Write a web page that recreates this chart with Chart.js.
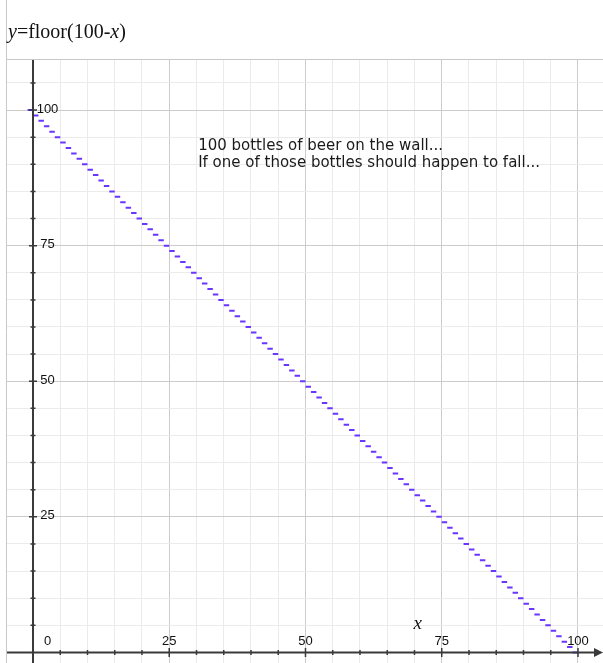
<!DOCTYPE html>
<html>
<head>
<meta charset="utf-8">
<script src="https://cdn.jsdelivr.net/npm/chart.js@4.4.0/dist/chart.umd.min.js"></script>
<style>
  html, body { margin: 0; padding: 0; background: #fff; }
  #wrap { width: 603px; height: 663px; position: relative; }
</style>
</head>
<body>
<div id="wrap"><canvas id="chart" width="603" height="663"></canvas></div>
<script>
// step edges on x: dash i runs from stepEdges[i] to stepEdges[i+1]
var stepEdges = [
  -1, 0, 1, 2, 3, 4, 5, 6, 7, 8, 9, 10, 11, 12, 13, 14, 15, 16, 17, 18, 19,
  20, 21, 22, 23, 24, 25, 26, 27, 28, 29, 30, 31, 32, 33, 34, 35, 36, 37, 38, 39,
  40, 41, 42, 43, 44, 45, 46, 47, 48, 49, 50, 51, 52, 53, 54, 55, 56, 57, 58, 59,
  60, 61, 62, 63, 64, 65, 66, 67, 68, 69, 70, 71, 72, 73, 74, 75, 76, 77, 78, 79,
  80, 81, 82, 83, 84, 85, 86, 87, 88, 89, 90, 91, 92, 93, 94, 95, 96, 97, 98, 99, 100
];
// floor(100-x) on each step
var stepValues = [
  100, 99, 98, 97, 96, 95, 94, 93, 92, 91, 90, 89, 88, 87, 86, 85, 84, 83, 82, 81,
  80, 79, 78, 77, 76, 75, 74, 73, 72, 71, 70, 69, 68, 67, 66, 65, 64, 63, 62, 61,
  60, 59, 58, 57, 56, 55, 54, 53, 52, 51, 50, 49, 48, 47, 46, 45, 44, 43, 42, 41,
  40, 39, 38, 37, 36, 35, 34, 33, 32, 31, 30, 29, 28, 27, 26, 25, 24, 23, 22, 21,
  20, 19, 18, 17, 16, 15, 14, 13, 12, 11, 10, 9, 8, 7, 6, 5, 4, 3, 2, 1, 0
];
var xTickLabels = ['0', '25', '50', '75', '100'];
var xTickValues = [0, 25, 50, 75, 100];
var yTickLabels = ['25', '50', '75', '100'];
var yTickValues = [25, 50, 75, 100];
var noteLines = ['100 bottles of beer on the wall...', 'If one of those bottles should happen to fall...'];

// build the dashes, with a null between them so nothing joins them
var dashData = [];
for (var i = 0; i < stepValues.length; i++) {
  dashData.push({x: stepEdges[i], y: stepValues[i]});
  dashData.push({x: stepEdges[i + 1], y: stepValues[i]});
  dashData.push({x: stepEdges[i + 1], y: null});
}

function everyFive(scale) {
  var t = [];
  var start = Math.ceil(scale.min / 5) * 5;
  for (var v = start; v <= scale.max; v += 5) t.push({value: v});
  scale.ticks = t;
}

function gridColor(c) {
  if (!c.tick) return '#ececec';
  return (c.tick.value % 25 === 0) ? '#cccccc' : '#ebebeb';
}

var decor = {
  id: 'decor',
  beforeDraw: function(chart) {
    var ctx = chart.ctx;
    ctx.save();
    ctx.fillStyle = '#fff';
    ctx.fillRect(0, 0, chart.width, chart.height);
    ctx.restore();
  },
  afterDraw: function(chart) {
    var ctx = chart.ctx;
    var xs = chart.scales.x, ys = chart.scales.y;
    var ax = xs.getPixelForValue(0);
    var ay = ys.getPixelForValue(0);
    var area = chart.chartArea;

    ctx.save();
    // frame lines
    ctx.strokeStyle = '#c8c8c8';
    ctx.lineWidth = 1;
    ctx.beginPath();
    ctx.moveTo(6.5, 0); ctx.lineTo(6.5, chart.height);
    ctx.moveTo(6.5, 59.5); ctx.lineTo(chart.width, 59.5);
    ctx.stroke();

    // axes
    ctx.strokeStyle = '#3a3a3a';
    ctx.fillStyle = '#3a3a3a';
    ctx.lineWidth = 2;
    ctx.beginPath();
    ctx.moveTo(ax, area.top); ctx.lineTo(ax, area.bottom);
    ctx.moveTo(area.left, ay); ctx.lineTo(area.right - 6, ay);
    ctx.stroke();
    // arrow head
    ctx.beginPath();
    ctx.moveTo(area.right, ay);
    ctx.lineTo(area.right - 9, ay - 4.5);
    ctx.lineTo(area.right - 9, ay + 4.5);
    ctx.closePath();
    ctx.fill();

    // ticks on axes
    ctx.lineWidth = 1.5;
    ctx.beginPath();
    xs.ticks.forEach(function(t) {
      if (t.value <= 0) return;
      var px = xs.getPixelForValue(t.value);
      var h = (t.value % 25 === 0) ? 4.5 : 2.5;
      ctx.moveTo(px, ay - h); ctx.lineTo(px, ay + h);
    });
    ys.ticks.forEach(function(t) {
      if (t.value <= 0) return;
      var py = ys.getPixelForValue(t.value);
      var h = (t.value % 25 === 0) ? 4 : 2.5;
      ctx.moveTo(ax - h, py); ctx.lineTo(ax + h, py);
    });
    ctx.stroke();

    // tick labels
    ctx.fillStyle = '#111';
    ctx.font = '13px "Liberation Sans", Arial, sans-serif';
    ctx.textAlign = 'center';
    ctx.textBaseline = 'alphabetic';
    xTickValues.forEach(function(v, k) {
      var px = v === 0 ? ax + 14.5 : xs.getPixelForValue(v);
      ctx.fillText(xTickLabels[k], px, ay - 7);
    });
    ctx.textBaseline = 'middle';
    yTickValues.forEach(function(v, k) {
      ctx.fillText(yTickLabels[k], ax + 14.5, ys.getPixelForValue(v) - 1);
    });

    // axis name
    ctx.font = 'italic 19px "Liberation Serif", "Times New Roman", serif';
    ctx.textBaseline = 'alphabetic';
    ctx.fillText('x', xs.getPixelForValue(70.6), ys.getPixelForValue(4.4));

    // title in header
    ctx.textAlign = 'left';
    var tx = 8, ty = 38;
    var parts = [['y', true], ['=floor(100-', false], ['x', true], [')', false]];
    parts.forEach(function(p) {
      ctx.font = (p[1] ? 'italic ' : '') + '20px "Liberation Serif", "Times New Roman", serif';
      ctx.fillText(p[0], tx, ty);
      tx += ctx.measureText(p[0]).width;
    });

    // note
    ctx.fillStyle = '#1a1a1a';
    ctx.font = '15px "DejaVu Sans", sans-serif';
    var nx = xs.getPixelForValue(30.3);
    var ny = ys.getPixelForValue(92.7);
    noteLines.forEach(function(s, k) {
      ctx.fillText(s, nx, ny + k * 17);
    });
    ctx.restore();
  }
};

new Chart(document.getElementById('chart'), {
  type: 'scatter',
  data: {
    datasets: [{
      data: dashData,
      showLine: true,
      spanGaps: false,
      borderColor: '#6a35ff',
      borderWidth: 2,
      pointRadius: 0,
      pointHoverRadius: 0
    }]
  },
  options: {
    responsive: false,
    animation: false,
    events: [],
    layout: { padding: { left: 7, top: 60, right: 0, bottom: 0 } },
    plugins: { legend: { display: false }, tooltip: { enabled: false } },
    scales: {
      x: {
        type: 'linear',
        min: -4.77,
        max: 104.59,
        afterBuildTicks: everyFive,
        ticks: { display: false },
        border: { display: false },
        grid: { color: gridColor, drawTicks: false, lineWidth: 1 }
      },
      y: {
        type: 'linear',
        min: -1.94,
        max: 109.22,
        afterBuildTicks: everyFive,
        ticks: { display: false },
        border: { display: false },
        grid: { color: gridColor, drawTicks: false, lineWidth: 1 }
      }
    }
  },
  plugins: [decor]
});
</script>
</body>
</html>
